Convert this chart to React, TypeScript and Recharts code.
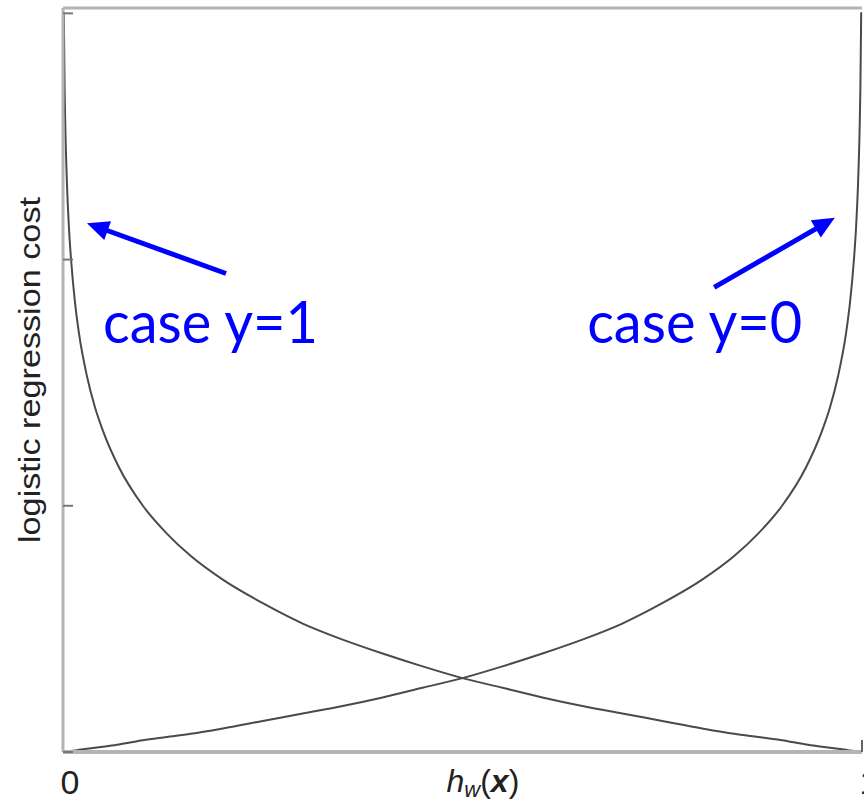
import React from 'react';
import { LineChart, Line, XAxis, YAxis, ReferenceLine, ReferenceDot, Label } from 'recharts';

const hValues = [
  0, 0.001, 0.002, 0.003, 0.005, 0.0075, 0.01, 0.015, 0.02, 0.03, 0.04, 0.05, 0.07, 0.1, 0.13, 0.16,
  0.2, 0.25, 0.3, 0.35, 0.4, 0.45, 0.5, 0.55, 0.6, 0.65, 0.7, 0.75, 0.8, 0.84, 0.87, 0.9, 0.93, 0.95,
  0.96, 0.97, 0.98, 0.985, 0.99, 0.9925, 0.995, 0.997, 0.998, 0.999, 1,
];

const costCaseY1 = [
  null, 6.91, 6.21, 5.81, 5.3, 4.89, 4.61, 4.2, 3.91, 3.51, 3.22, 3.0, 2.66, 2.3, 2.04, 1.83,
  1.61, 1.39, 1.2, 1.05, 0.92, 0.8, 0.69, 0.6, 0.51, 0.43, 0.36, 0.29, 0.22, 0.17, 0.14, 0.11, 0.07, 0.05,
  0.04, 0.03, 0.02, 0.015, 0.01, 0.0075, 0.005, 0.003, 0.002, 0.001, 0,
];

const costCaseY0 = [
  0, 0.001, 0.002, 0.003, 0.005, 0.0075, 0.01, 0.015, 0.02, 0.03, 0.04, 0.05, 0.07, 0.11, 0.14, 0.17,
  0.22, 0.29, 0.36, 0.43, 0.51, 0.6, 0.69, 0.8, 0.92, 1.05, 1.2, 1.39, 1.61, 1.83, 2.04, 2.3, 2.66, 3.0,
  3.22, 3.51, 3.91, 4.2, 4.61, 4.89, 5.3, 5.81, 6.21, 6.91, null,
];

const xTicks = [0, 1];
const yTicks = [0, 2.3, 4.6, 6.9];
const yMax = 6.95;

const arrowSegments = [
  [{ x: 0.204, y: 4.47 }, { x: 0.03, y: 4.94 }],
  [{ x: 0.815, y: 4.34 }, { x: 0.966, y: 4.99 }],
];

const annotations = [
  { x: 0.05, y: 3.82, text: 'case y=1' },
  { x: 0.656, y: 3.82, text: 'case y=0' },
];

const yLabel = 'logistic regression cost';

const data = hValues.map((h, i) => ({ h, c1: costCaseY1[i], c0: costCaseY0[i] }));

const ArrowShape = (props: any) => {
  const { x1, y1, x2, y2 } = props;
  const dx = x2 - x1;
  const dy = y2 - y1;
  const len = Math.hypot(dx, dy) || 1;
  const ux = dx / len;
  const uy = dy / len;
  const headLen = 22;
  const headW = 10;
  const bx = x2 - ux * headLen;
  const by = y2 - uy * headLen;
  const px = -uy;
  const py = ux;
  return (
    <g>
      <line x1={x1} y1={y1} x2={bx + ux * 2} y2={by + uy * 2} stroke="#0000ff" strokeWidth={5} />
      <polygon
        points={`${x2},${y2} ${bx + px * headW},${by + py * headW} ${bx - px * headW},${by - py * headW}`}
        fill="#0000ff"
      />
    </g>
  );
};

const makeTextShape = (text: string) => (props: any) => (
  <text
    x={props.cx}
    y={props.cy}
    fill="#0000ff"
    fontSize={58}
    fontFamily="Lato, 'Open Sans', sans-serif"
    textLength={215}
    lengthAdjust="spacingAndGlyphs"
  >
    {text}
  </text>
);

const XLabel = (props: any) => {
  const vb = props.viewBox || { x: 63, y: 752, width: 799, height: 50 };
  const x = vb.x + vb.width * 0.48;
  const y = vb.y + 40;
  return (
    <text x={x} y={y} fill="#222" fontFamily="'Liberation Sans', Arial, sans-serif" fontSize={32}>
      <tspan fontStyle="italic">h</tspan>
      <tspan fontStyle="italic" fontSize={22} dy={5}>w</tspan>
      <tspan dy={-5}>(</tspan>
      <tspan fontStyle="italic" fontWeight="bold">x</tspan>
      <tspan>)</tspan>
    </text>
  );
};

const YLabel = (props: any) => {
  const vb = props.viewBox || { x: 3, y: 8, width: 60, height: 744 };
  const cx = vb.x + vb.width - 23;
  const cy = vb.y + 362;
  return (
    <text
      x={cx}
      y={cy}
      transform={`rotate(-90, ${cx}, ${cy})`}
      textAnchor="middle"
      fill="#222"
      fontFamily="'Liberation Sans', Arial, sans-serif"
      fontSize={30}
      textLength={346}
      lengthAdjust="spacingAndGlyphs"
    >
      {yLabel}
    </text>
  );
};

const EmptyTick = () => <g />;

export default function App() {
  return (
    <div style={{ position: 'absolute', left: 0, top: 0, width: 864, height: 802, background: '#fff' }}>
      <LineChart width={864} height={802} data={data} margin={{ top: 8, right: 2, bottom: 0, left: 3 }}>
        <XAxis
          dataKey="h"
          type="number"
          domain={[0, 1]}
          ticks={xTicks}
          height={50}
          axisLine={{ stroke: '#b4b4b4', strokeWidth: 4 }}
          tickLine={{ stroke: '#666', strokeWidth: 2 }}
          tickSize={-12}
          tickMargin={30}
          tick={{ fontSize: 34, fill: '#222', fontFamily: "'Liberation Sans', Arial, sans-serif", dx: 7 }}
          interval={0}
        >
          <Label content={XLabel} />
        </XAxis>
        <YAxis
          type="number"
          domain={[0, yMax]}
          ticks={yTicks}
          width={60}
          tick={EmptyTick}
          tickSize={-10}
          axisLine={{ stroke: '#b4b4b4', strokeWidth: 3 }}
          tickLine={{ stroke: '#777', strokeWidth: 2 }}
          allowDataOverflow
          interval={0}
        >
          <Label content={YLabel} />
        </YAxis>
        <ReferenceLine y={yMax} stroke="#b4b4b4" strokeWidth={3} />
        <Line
          dataKey="c1"
          type="monotone"
          stroke="#4a4a4a"
          strokeWidth={2}
          dot={false}
          isAnimationActive={false}
        />
        <Line
          dataKey="c0"
          type="monotone"
          stroke="#4a4a4a"
          strokeWidth={2}
          dot={false}
          isAnimationActive={false}
        />
        {arrowSegments.map((seg, i) => (
          <ReferenceLine key={`arrow-${i}`} segment={seg} shape={ArrowShape} ifOverflow="visible" />
        ))}
        {annotations.map((a, i) => (
          <ReferenceDot key={`ann-${i}`} x={a.x} y={a.y} r={0} ifOverflow="visible" shape={makeTextShape(a.text)} />
        ))}
      </LineChart>
    </div>
  );
}
